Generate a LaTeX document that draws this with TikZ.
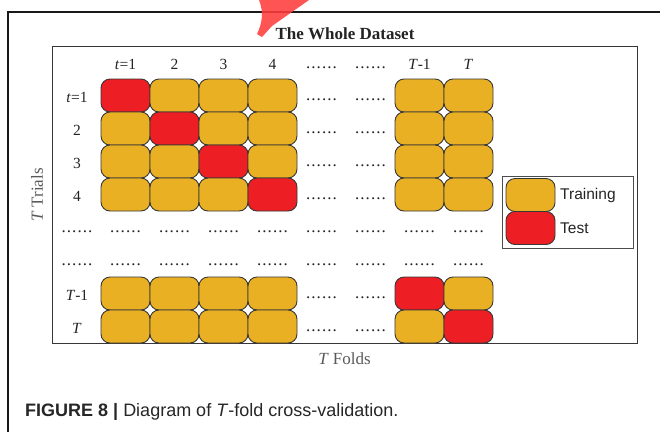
\documentclass[tikz,border=0pt]{standalone}
\usepackage{fontspec}
\setmainfont{Liberation Serif}
\setsansfont{Liberation Sans}
\definecolor{gold}{RGB}{234,176,36}
\definecolor{tred}{RGB}{238,31,36}
\definecolor{edge}{RGB}{55,55,55}
\definecolor{logored}{RGB}{255,60,60}
\definecolor{txt}{RGB}{35,35,35}
\newcommand{\onedot}{\hbox to 5.3pt{\hss.\hss}}
\newcommand{\sixdots}{\hbox{\fontsize{17}{20}\selectfont\onedot\onedot\onedot\onedot\onedot\onedot}}
\begin{document}
\begin{tikzpicture}[x=1pt,y=-1pt,
  cell/.style={draw=edge, line width=0.9pt, rounded corners=9pt, minimum width=49pt, minimum height=33pt, inner sep=0pt, outer sep=0pt},
  lab/.style={font=\fontsize{15.5}{18}\selectfont, text=txt, anchor=base, inner sep=0pt},
  axis/.style={font=\fontsize{17}{20}\selectfont, text=black!65, inner sep=0pt},
  legtext/.style={font=\sffamily\fontsize{15.5}{18}\selectfont, text=txt, anchor=west, inner sep=0pt}]
\useasboundingbox (0,0) rectangle (660,432);
% outer frame
\draw[line width=1.2pt, draw=black!90] (8,432) -- (8,12) -- (661,12);
% logo fragment
\fill[logored, opacity=0.88] (259,0) -- (309,0) -- (272,26) -- (262,37) -- (257,34) .. controls (262,24) and (264,12) .. cycle;
% title
\node[font=\bfseries\fontsize{17}{20}\selectfont, text=txt, inner sep=0pt] (title) at (345,33.5) {The Whole Dataset};
% inner frame
\node[draw=edge, line width=1pt, minimum width=585pt, minimum height=297pt, inner sep=0pt, outer sep=0pt, anchor=north west] (frame) at (52.5,46.5) {};
% headers
\node[lab] (h1) at (125.5,69) {\textit{t}=1};
\node[lab] (h2) at (174.5,69) {2};
\node[lab] (h3) at (223.5,69) {3};
\node[lab] (h4) at (272.5,69) {4};
\node[lab] (h5) at (321.5,68) {\sixdots};
\node[lab] (h6) at (370.5,68) {\sixdots};
\node[lab] (h7) at (419.5,69) {\textit{T}-1};
\node[lab] (h8) at (468.5,69) {\textit{T}};
% row labels
\node[lab] (r1) at (77,102) {\textit{t}=1};
\node[lab] (r2) at (77,135) {2};
\node[lab] (r3) at (77,168) {3};
\node[lab] (r4) at (77,201) {4};
\node[lab] (r5) at (77,232.5) {\sixdots};
\node[lab] (r6) at (77,265) {\sixdots};
\node[lab] (r7) at (77,300) {\textit{T}-1};
\node[lab] (r8) at (77,333) {\textit{T}};
% cells
\foreach \r in {1,2,3,4,7,8} {
  \foreach \k in {1,2,3,4,7,8} {
    \ifnum\r=\k \def\cc{tred}\else\def\cc{gold}\fi
    \node[cell, fill=\cc] (c\r-\k) at ({125.5+49*(\k-1)},{95.5+33*(\r-1)}) {};
  }
  \node[lab] (d\r-5) at (321.5,{95.5+33*(\r-1)+4.5}) {\sixdots};
  \node[lab] (d\r-6) at (370.5,{95.5+33*(\r-1)+4.5}) {\sixdots};
}
\foreach \r in {5,6} {
  \foreach \k in {1,...,8} {
    \node[lab] (d\r-\k) at ({125.5+49*(\k-1)},{95.5+33*(\r-1)+5}) {\sixdots};
  }
}
% axis labels
\node[axis, rotate=90] (trials) at (37,195) {\textit{T} Trials};
\node[axis] (folds) at (344.5,359) {\textit{T} Folds};
% legend
\node[draw=black!70, line width=0.9pt, minimum width=131pt, minimum height=72pt, inner sep=0pt, anchor=north west] (legend) at (502,176) {};
\node[cell, fill=gold] (ltrain) at (530.5,195) {};
\node[cell, fill=tred] (ltest) at (530.5,228) {};
\node[legtext] (ttrain) at (560,195) {Training};
\node[legtext] (ttest) at (560,228.5) {Test};
% caption
\node[font=\sffamily\fontsize{18}{21}\selectfont, text=black!85, anchor=west, inner sep=0pt] (caption) at (25,412) {\textbf{FIGURE 8 |} Diagram of \textit{T}-fold cross-validation.};
\end{tikzpicture}
\end{document}
